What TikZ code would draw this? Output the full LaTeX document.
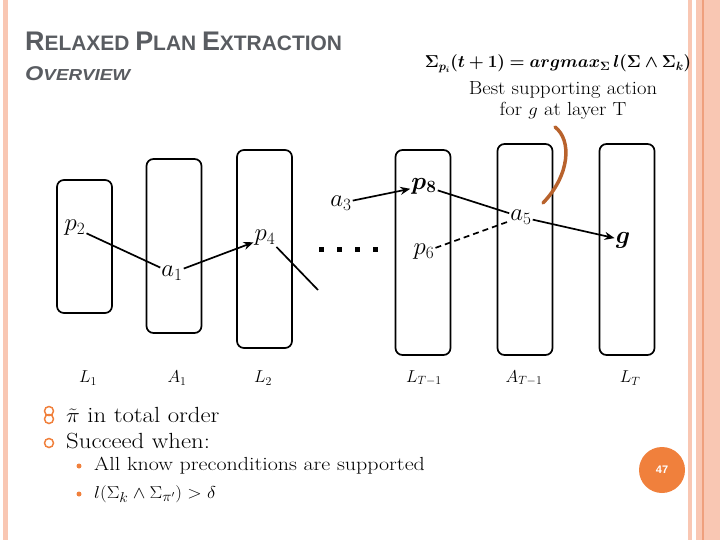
\documentclass[tikz,border=0pt]{standalone}
\usepackage{amsmath,amssymb,bm}
\usepackage{fontspec}
\newfontfamily\slidesans{Liberation Sans}
\usetikzlibrary{arrows.meta,positioning,calc}
\definecolor{slidepeach}{HTML}{F9C7B3}
\definecolor{slidepeachdark}{HTML}{EFA07E}
\definecolor{slideorange}{HTML}{F0803C}
\definecolor{slidebrown}{HTML}{B8622C}
\definecolor{slidegray}{HTML}{595C61}
\tikzset{
  layerbox/.style={
    draw,
    line width=1.7pt,
    rounded corners=7pt,
    minimum width=55bp,
    inner sep=0pt
  },
  layerlabel/.style={font=\fontsize{17}{19}\selectfont},
  propnode/.style={font=\fontsize{25}{28}\selectfont,inner sep=1pt},
  planline/.style={line width=1.7pt},
  planarrow/.style={-{Stealth[length=10bp,width=8bp]},line width=1.7pt},
  bodytext/.style={anchor=west,inner sep=0pt}
}
\newcommand{\capword}[2]{{\fontsize{27}{27}\selectfont #1}{\fontsize{21}{21}\selectfont #2}}
\newcommand{\subcapword}[2]{{\fontsize{20}{20}\selectfont #1}{\fontsize{16}{16}\selectfont #2}}
\newcommand{\wide}[2]{\scalebox{#1}[1]{#2}}

\begin{document}
\begin{tikzpicture}[x=1bp,y=-1bp]
      \useasboundingbox (0,0) rectangle (720,540);
      % slide frame
      \fill[slidepeach] (3,0) rectangle (8,540);
      \fill[slidepeach] (688,0) rectangle (692,540);
      \fill[slidepeach] (696,0) rectangle (720,540);
      \fill[slidepeachdark] (702,0) rectangle (703.5,540);
      % title
      \node[anchor=base west,inner sep=0pt,text=slidegray] (title) at (25,51)
        {\slidesans\bfseries\fontsize{21}{21}\selectfont
         \capword{R}{ELAXED} \capword{P}{LAN} \capword{E}{XTRACTION}};
      \node[anchor=base west,inner sep=0pt,text=slidegray] (subtitle) at (25,81)
        {\slidesans\bfseries\itshape\wide{1.18}{\subcapword{O}{VERVIEW}}};
      % annotation
      \node[font=\fontsize{17}{20}\selectfont] (formula) at (558,64)
        {$\bm{\Sigma_{p_i}(t+1) = argmax_{\Sigma}\, l(\Sigma\wedge\Sigma_k)}$};
      \node[font=\fontsize{19}{21}\selectfont,align=center] (best) at (563,100)
        {\wide{1.09}{Best supporting action}\\\wide{1.09}{for $g$ at layer T}};
      % layers
      \node[layerbox,minimum height=133bp] (l1) at (84.5,246.5) {};
      \node[layerbox,minimum height=174bp] (a1box) at (174,246) {};
      \node[layerbox,minimum height=198bp] (l2) at (264.5,249) {};
      \node[layerbox,minimum height=205bp] (lt1) at (423,252.5) {};
      \node[layerbox,minimum height=211bp] (at1) at (525,249.5) {};
      \node[layerbox,minimum height=211bp] (lt) at (627,249.5) {};
      \node[layerlabel] (lbl1) at (88,378) {$L_1$};
      \node[layerlabel] (lbla1) at (177,378) {$A_1$};
      \node[layerlabel] (lbl2) at (263,378) {$L_2$};
      \node[layerlabel] (lblt1) at (424,378) {$L_{T-1}$};
      \node[layerlabel] (lblat1) at (524,378) {$A_{T-1}$};
      \node[layerlabel] (lblt) at (630,378) {$L_T$};
      % propositions and actions
      \node[propnode] (p2) at (75,228) {$p_2$};
      \node[propnode] (a1) at (172,273) {$a_1$};
      \node[propnode] (p4) at (265,238) {$p_4$};
      \node[propnode] (a3) at (341,203) {$a_3$};
      \node[propnode] (p8) at (424,186) {$\bm{p_8}$};
      \node[propnode] (p6) at (424,252) {$p_6$};
      \node[propnode] (a5) at (521,217) {$a_5$};
      \node[propnode] (g) at (623,240) {$\bm{g}$};
      \coordinate (p4end) at (318,290);
      \draw[planline] (p2) -- (a1);
      \draw[planarrow] (a1) -- (p4);
      \draw[planline] (p4.south east) -- (p4end);
      \draw[planarrow] (a3) -- (p8);
      \draw[planline] (p8) -- (a5);
      \draw[planline,dashed,dash pattern=on 6bp off 4bp] (p6) -- (a5);
      \draw[planarrow] (a5) -- (g);
      % dots
      \foreach \dx in {321,339,357,375}
        \fill (\dx-2.5,247.5) rectangle (\dx+2.5,252.5);
      % pointer from annotation
      \coordinate (curvetop) at (555,127);
      \coordinate (curvebot) at (543,203);
      \draw[slidebrown,line width=3.5pt,line cap=round]
        (curvebot) .. controls (570,175) and (572,140) .. (curvetop);
      % bullets
      \draw[slideorange,line width=1.5pt] (49,411) circle (4.5bp);
      \draw[slideorange,line width=1.5pt] (49,419) circle (4.5bp);
      \draw[slideorange,line width=1.5pt] (49,443) circle (4.5bp);
      \fill[slideorange] (79,466) circle (2.5bp);
      \fill[slideorange] (79,494) circle (2.5bp);
      \node[bodytext,font=\fontsize{22}{24}\selectfont] (order) at (66,415)
        {\wide{1.13}{$\tilde{\pi}$ in total order}};
      \node[bodytext,font=\fontsize{22}{24}\selectfont] (succeed) at (66,441)
        {\wide{1.13}{Succeed when:}};
      \node[bodytext,font=\fontsize{19}{21}\selectfont] (precond) at (94,466)
        {\wide{1.16}{All know preconditions are supported}};
      \node[bodytext,font=\fontsize{19}{21}\selectfont] (delta) at (94,494)
        {\wide{1.1}{$l(\Sigma_k\wedge\Sigma_{\pi'})>\delta$}};
      % page number
      \node[circle,fill=slideorange,minimum size=46bp,inner sep=0pt,
        text=white,font=\slidesans\bfseries\fontsize{11}{11}\selectfont] (page) at (662,470) {47};
    \end{tikzpicture}
\end{document}
